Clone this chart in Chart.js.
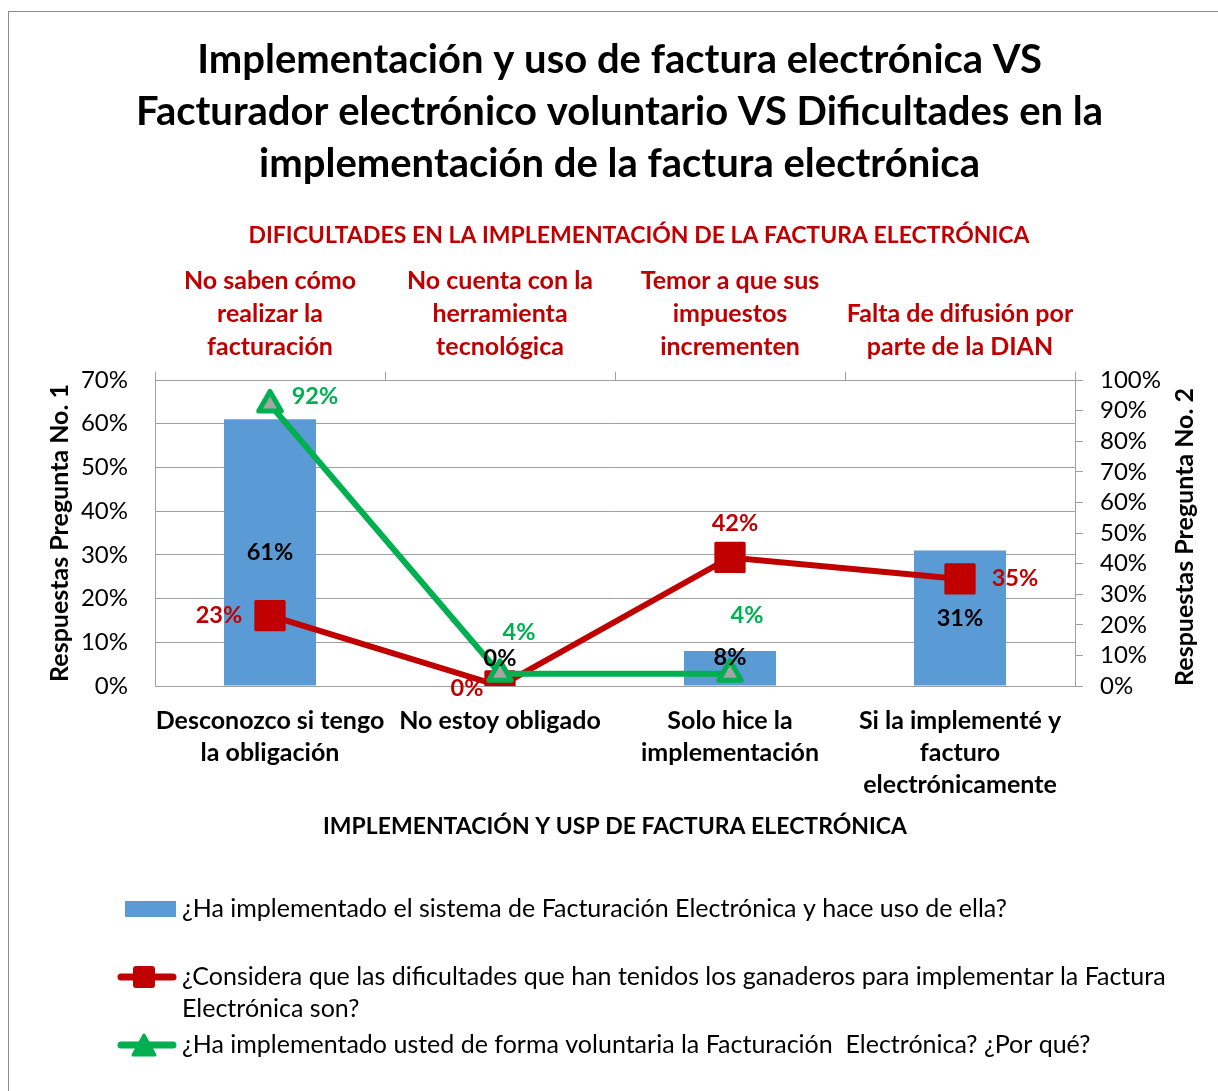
<!DOCTYPE html>
<html>
<head>
<meta charset="utf-8">
<script src="https://cdn.jsdelivr.net/npm/chart.js@4.4.1/dist/chart.umd.min.js"></script>
<style>
  html, body { margin: 0; padding: 0; background: #fff; overflow: hidden; }
  #frame { position: absolute; left: 8px; top: 11px; width: 1240px; height: 1100px; border: 1px solid #8c8c8c; }
  #c { position: absolute; left: 9px; top: 12px; }
</style>
</head>
<body>
<div id="frame"></div>
<canvas id="c" width="1221" height="1079"></canvas>
<script>
// categories
var bottomCats = [['Desconozco si tengo', 'la obligación'], 'No estoy obligado', ['Solo hice la', 'implementación'], ['Si la implementé y', 'facturo', 'electrónicamente']];
var topCats = [['No saben cómo', 'realizar la', 'facturación'], ['No cuenta con la', 'herramienta', 'tecnológica'], ['Temor a que sus', 'impuestos', 'incrementen'], ['Falta de difusión por', 'parte de la DIAN']];

// series values (%)
var implementa = [61, 0, 8, 31];
var dificultades = [23, 0, 42, 35];
var voluntario = [92, 4, 4, null];

// series names
var nameBar = ['¿Ha implementado el sistema de Facturación Electrónica y hace uso de ella?'];
var nameRed = ['¿Considera que las dificultades que han tenidos los ganaderos para implementar la Factura', 'Electrónica son?'];
var nameGreen = ['¿Ha implementado usted de forma voluntaria la Facturación  Electrónica? ¿Por qué?'];

// ticks
var leftTicks = [0, 10, 20, 30, 40, 50, 60, 70];
var rightTicks = [0, 10, 20, 30, 40, 50, 60, 70, 80, 90, 100];

var titleLines = ['Implementación y uso de factura electrónica VS', 'Facturador electrónico voluntario VS Dificultades en la', 'implementación de la factura electrónica'];
var topTitle = 'DIFICULTADES EN LA IMPLEMENTACIÓN DE LA FACTURA ELECTRÓNICA';
var bottomTitle = 'IMPLEMENTACIÓN Y USP DE FACTURA ELECTRÓNICA';
var leftTitle = 'Respuestas Pregunta No. 1';
var rightTitle = 'Respuestas Pregunta No. 2';

var BLUE = '#5B9BD5', RED = '#C00000', GREEN = '#00B050', GREY = '#A5A5A5', GRID = '#A0A0A0';
var FONT = 'Lato';

var extras = {
  id: 'extras',
  beforeDatasetsDraw: function (chart) { chart.ctx.lineJoin = 'round'; },
  afterDatasetsDraw: function (chart) {
    var ctx = chart.ctx;
    ctx.save();
    ctx.font = 'bold 23.5px ' + FONT;
    ctx.textAlign = 'center';
    ctx.textBaseline = 'middle';
    chart.data.datasets.forEach(function (ds, i) {
      var meta = chart.getDatasetMeta(i);
      meta.data.forEach(function (el, j) {
        var v = ds.data[j];
        if (v === null || v === undefined) return;
        var x = el.x, y;
        if (ds.type === 'bar') {
          y = Math.min((el.y + el.base) / 2, el.base - 28);
        } else {
          x += ds.labelOffsets[j][0];
          y = el.y + ds.labelOffsets[j][1];
        }
        ctx.fillStyle = ds.labelColor;
        ctx.fillText(v + '%', x, y);
      });
    });
    ctx.restore();
  },
  afterDraw: function (chart) {
    var ctx = chart.ctx;
    ctx.save();
    // top axis title
    ctx.font = 'bold 23px ' + FONT;
    ctx.fillStyle = RED;
    ctx.textAlign = 'center';
    ctx.textBaseline = 'middle';
    ctx.fillText(topTitle, 630, 224);
    // right axis title, reading upwards
    ctx.font = 'bold 25px ' + FONT;
    ctx.fillStyle = '#000';
    ctx.translate(1176, (chart.chartArea.top + chart.chartArea.bottom) / 2 + 4);
    ctx.rotate(-Math.PI / 2);
    ctx.fillText(rightTitle, 0, 0);
    ctx.restore();

    // legend
    ctx.save();
    ctx.font = '25px ' + FONT;
    ctx.textAlign = 'left';
    ctx.textBaseline = 'middle';
    var tx = 173;
    ctx.fillStyle = BLUE;
    ctx.fillRect(116, 889, 51, 16);
    ctx.fillStyle = '#000';
    nameBar.forEach(function (t, k) { ctx.fillText(t, tx, 897 + k * 32); });

    ctx.strokeStyle = RED;
    ctx.lineWidth = 7;
    ctx.lineCap = 'round';
    ctx.beginPath(); ctx.moveTo(112, 965); ctx.lineTo(164, 965); ctx.stroke();
    ctx.fillStyle = RED;
    ctx.beginPath(); ctx.roundRect(124, 954, 22, 22, 3); ctx.fill();
    ctx.fillStyle = '#000';
    nameRed.forEach(function (t, k) { ctx.fillText(t, tx, 965 + k * 32); });

    ctx.strokeStyle = GREEN;
    ctx.beginPath(); ctx.moveTo(112, 1033); ctx.lineTo(164, 1033); ctx.stroke();
    ctx.fillStyle = GREEN;
    ctx.lineJoin = 'round';
    ctx.lineWidth = 3;
    ctx.beginPath(); ctx.moveTo(135, 1023); ctx.lineTo(146, 1043); ctx.lineTo(124, 1043); ctx.closePath(); ctx.fill(); ctx.stroke();
    ctx.fillStyle = '#000';
    nameGreen.forEach(function (t, k) { ctx.fillText(t, tx, 1033 + k * 32); });
    ctx.restore();
  }
};

new Chart(document.getElementById('c'), {
  data: {
    labels: bottomCats,
    datasets: [{
      type: 'line',
      label: nameGreen.join(' '),
      data: voluntario,
      yAxisID: 'y1',
      xAxisID: 'x',
      order: 1,
      borderColor: GREEN,
      borderWidth: 6,
      tension: 0,
      pointStyle: 'triangle',
      pointRadius: 13,
      pointBorderWidth: 5,
      pointBorderColor: GREEN,
      pointBackgroundColor: GREY,
      labelColor: GREEN,
      labelOffsets: [[45, -8], [19, -41], [17, -58], [0, 0]]
    }, {
      type: 'line',
      label: nameRed.join(' '),
      data: dificultades,
      yAxisID: 'y1',
      xAxisID: 'x',
      order: 2,
      borderColor: RED,
      borderWidth: 6,
      tension: 0,
      pointStyle: 'rect',
      pointRadius: 20,
      pointBorderWidth: 3,
      pointBorderColor: RED,
      pointBackgroundColor: RED,
      labelColor: RED,
      labelOffsets: [[-51, 0], [-33, 2], [5, -34], [55, 0]]
    }, {
      type: 'bar',
      label: nameBar.join(' '),
      data: implementa,
      yAxisID: 'y',
      xAxisID: 'x',
      order: 3,
      backgroundColor: BLUE,
      categoryPercentage: 0.8,
      barPercentage: 0.5,
      labelColor: '#000'
    }]
  },
  options: {
    responsive: false,
    animation: false,
    events: [],
    layout: { padding: 0 },
    plugins: {
      legend: { display: false },
      tooltip: { enabled: false },
      title: {
        display: true,
        text: titleLines,
        color: '#000',
        font: { family: FONT, size: 40, weight: 'bold', lineHeight: 52 / 40 },
        padding: { top: 22, bottom: 0 }
      }
    },
    scales: {
      x: {
        type: 'category',
        position: 'bottom',
        offset: true,
        grid: { display: false, drawTicks: false },
        border: { display: true, color: GRID, width: 1 },
        ticks: {
          color: '#000', padding: 19, maxRotation: 0, autoSkip: false,
          font: { family: FONT, size: 25, weight: 'bold', lineHeight: 32 / 25 }
        },
        title: {
          display: true, text: bottomTitle, color: '#000',
          font: { family: FONT, size: 23, weight: 'bold', lineHeight: 1.2 },
          padding: { top: 0, bottom: 251 }
        },
        afterFit: function (s) { s.height = 405; }
      },
      x2: {
        type: 'category',
        position: 'top',
        labels: topCats,
        offset: true,
        grid: { offset: true, drawOnChartArea: false, drawTicks: true, tickLength: 8, color: GRID },
        border: { display: true, color: GRID, width: 1 },
        ticks: {
          color: RED, padding: 9, maxRotation: 0, autoSkip: false,
          font: { family: FONT, size: 25, weight: 'bold', lineHeight: 33 / 25 }
        },
        afterFit: function (s) { s.height = 190; }
      },
      y: {
        type: 'linear',
        position: 'left',
        min: 0, max: 70,
        afterBuildTicks: function (s) { s.ticks = leftTicks.map(function (v) { return { value: v }; }); },
        grid: { color: GRID, lineWidth: 1, drawTicks: false },
        border: { display: true, color: GRID, width: 1 },
        ticks: {
          color: '#000', padding: 27, autoSkip: false,
          font: { family: FONT, size: 24 },
          callback: function (v) { return v + '%'; }
        },
        title: {
          display: true, text: leftTitle, color: '#000',
          font: { family: FONT, size: 25, weight: 'bold', lineHeight: 1.2 },
          padding: { top: 36, bottom: 0 }
        },
        afterFit: function (s) { s.width = 146; }
      },
      y1: {
        type: 'linear',
        position: 'right',
        min: 0, max: 100,
        afterBuildTicks: function (s) { s.ticks = rightTicks.map(function (v) { return { value: v }; }); },
        grid: { drawOnChartArea: false, drawTicks: true, tickLength: 8, color: GRID },
        border: { display: true, color: GRID, width: 1 },
        ticks: {
          color: '#000', padding: 17, autoSkip: false,
          font: { family: FONT, size: 24 },
          callback: function (v) { return v + '%'; }
        },
        afterFit: function (s) { s.width = 155; }
      }
    }
  },
  plugins: [extras]
});
</script>
</body>
</html>
